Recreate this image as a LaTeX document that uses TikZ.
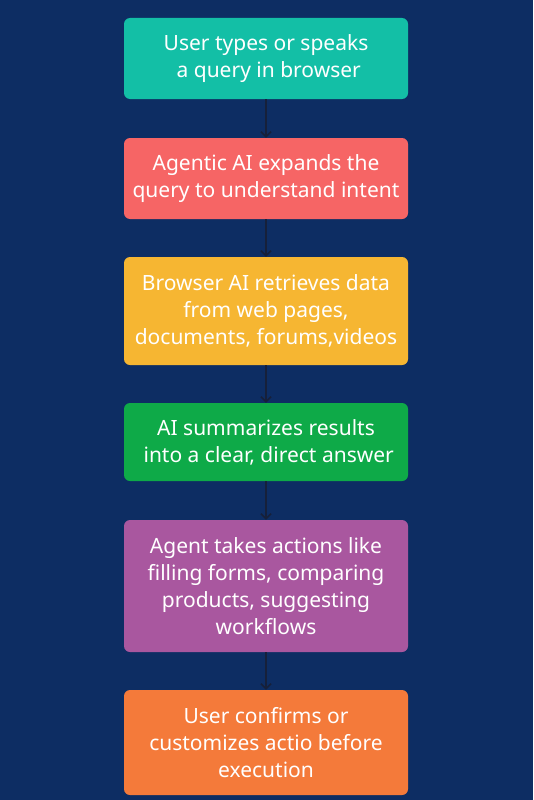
\documentclass[tikz,border=0pt]{standalone}
\usepackage{fontspec}
\setmainfont{Noto Sans}
\usetikzlibrary{arrows.meta}
\definecolor{bg}{HTML}{0D2D63}
\definecolor{c1}{HTML}{13BFA6}
\definecolor{c2}{HTML}{F66565}
\definecolor{c3}{HTML}{F6B632}
\definecolor{c4}{HTML}{0EAA48}
\definecolor{c5}{HTML}{A9579F}
\definecolor{c6}{HTML}{F47A3A}
\definecolor{arr}{HTML}{16203A}
\tikzset{
  flowbox/.style={rounded corners=6pt, minimum width=284pt, inner sep=0pt, align=center,
    text=white, font=\fontsize{21}{27}\selectfont},
  flowarrow/.style={draw=arr, line width=1.6pt, -{Straight Barb[length=5pt,width=10pt,line width=1.6pt]}}
}
\begin{document}
\begin{tikzpicture}[x=1pt,y=-1pt]
\fill[bg] (0,0) rectangle (533,800);
\useasboundingbox (0,0) rectangle (533,800);
\node[flowbox, fill=c1, minimum height=81pt] (b1) at (266,58.5) {User types or speaks\\ \ a query in browser};
\node[flowbox, fill=c2, minimum height=81pt] (b2) at (266,178.5) {Agentic AI expands the\\query to understand intent};
\node[flowbox, fill=c3, minimum height=108pt] (b3) at (266,311) {Browser AI retrieves data\\from web pages,\\documents, forums,videos};
\node[flowbox, fill=c4, minimum height=78pt] (b4) at (266,442) {AI summarizes results\\ \ into a clear, direct answer};
\node[flowbox, fill=c5, minimum height=132pt] (b5) at (266,586) {Agent takes actions like\\filling forms, comparing\\products, suggesting\\workflows};
\node[flowbox, fill=c6, minimum height=105pt] (b6) at (266,742.5) {User confirms or\\customizes actio before\\execution};
\draw[flowarrow] (b1) -- (b2);
\draw[flowarrow] (b2) -- (b3);
\draw[flowarrow] (b3) -- (b4);
\draw[flowarrow] (b4) -- (b5);
\draw[flowarrow] (b5) -- (b6);
\end{tikzpicture}
\end{document}
